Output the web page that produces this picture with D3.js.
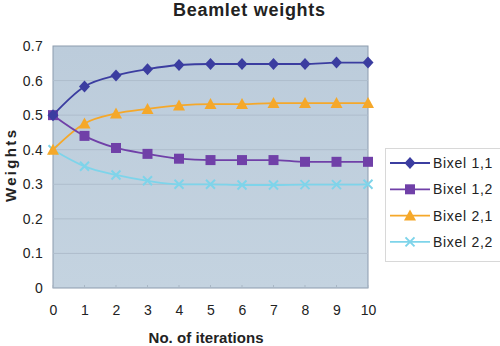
<!DOCTYPE html>
<html><head><meta charset="utf-8">
<script src="https://cdn.jsdelivr.net/npm/d3@7"></script>
<style>body{margin:0;background:#fff}svg{display:block}text{font-family:"Liberation Sans",Arial,sans-serif}</style>
</head><body>
<svg id="c" width="500" height="346"></svg>
<script>
const iterations = [0,1,2,3,4,5,6,7,8,9,10];
const bixel11 = [0.5,0.583,0.615,0.633,0.645,0.648,0.648,0.648,0.648,0.652,0.652];
const bixel12 = [0.5,0.44,0.405,0.388,0.374,0.37,0.37,0.37,0.365,0.365,0.365];
const bixel21 = [0.4,0.476,0.505,0.518,0.528,0.532,0.532,0.535,0.535,0.535,0.535];
const bixel22 = [0.4,0.352,0.327,0.31,0.3,0.3,0.298,0.298,0.299,0.299,0.3];
const seriesNames = ["Bixel 1,1","Bixel 1,2","Bixel 2,1","Bixel 2,2"];
const yTicks = [0,0.1,0.2,0.3,0.4,0.5,0.6,0.7];

const series = [
  {name:seriesNames[0], values:bixel11, color:"#3B3DA0", marker:"diamond"},
  {name:seriesNames[1], values:bixel12, color:"#7040A8", marker:"square"},
  {name:seriesNames[2], values:bixel21, color:"#F5A82A", marker:"triangle"},
  {name:seriesNames[3], values:bixel22, color:"#7ED4EA", marker:"x"}
];

const svg = d3.select("#c");
const L=53, R=368, T=46, B=288;
const x = d3.scaleLinear().domain([0,10]).range([L,R]);
const y = d3.scaleLinear().domain([0,0.7]).range([B,T]);

const defs = svg.append("defs");
const g = defs.append("linearGradient").attr("id","bg").attr("x1",0).attr("y1",0).attr("x2",0).attr("y2",1);
g.append("stop").attr("offset","0%").attr("stop-color","#BCCCDB");
g.append("stop").attr("offset","100%").attr("stop-color","#C4D3E0");

svg.append("rect").attr("x",L).attr("y",T).attr("width",R-L).attr("height",B-T)
  .attr("fill","url(#bg)").attr("stroke","#8C9BAE").attr("stroke-width",1);

// gridlines
svg.append("g").selectAll("line").data(yTicks.filter(d=>d>0&&d<0.7)).join("line")
  .attr("x1",L).attr("x2",R).attr("y1",d=>y(d)).attr("y2",d=>y(d))
  .attr("stroke","#AEBDCC").attr("stroke-width",1);

// axes
const yAxis = d3.axisLeft(y).tickValues(yTicks).tickSize(0).tickPadding(10).tickFormat(d=>d===0?"0":d3.format(".1f")(d));
const ya = svg.append("g").attr("transform",`translate(${L},0)`).call(yAxis);
ya.select(".domain").remove();
ya.selectAll("text").attr("font-size",14).attr("fill","#222").attr("letter-spacing",0.3);

const xAxis = d3.axisBottom(x).tickValues(iterations).tickSize(0).tickPadding(17).tickFormat(d3.format("d"));
const xa = svg.append("g").attr("transform",`translate(0,${B})`).call(xAxis);
xa.select(".domain").remove();
xa.selectAll("text").attr("font-size",14).attr("fill","#222");
// small tick marks
svg.append("g").selectAll("line").data(iterations).join("line")
  .attr("x1",d=>x(d)).attr("x2",d=>x(d)).attr("y1",B).attr("y2",B-3).attr("stroke","#A9B7C5");

// titles
svg.append("text").attr("x",249).attr("y",16).attr("text-anchor","middle")
  .attr("font-size",18).attr("font-weight","bold").attr("fill","#222")
  .attr("textLength",152).attr("lengthAdjust","spacing").text("Beamlet weights");
svg.append("text").attr("x",206).attr("y",343).attr("text-anchor","middle")
  .attr("font-size",15).attr("font-weight","bold").attr("fill","#222")
  .attr("textLength",115).attr("lengthAdjust","spacing").text("No. of iterations");
svg.append("text").attr("transform",`translate(16,166) rotate(-90)`).attr("text-anchor","middle")
  .attr("font-size",15).attr("font-weight","bold").attr("fill","#222")
  .attr("textLength",72).attr("lengthAdjust","spacing").text("Weights");

function drawMarker(sel, type, color){
  if(type==="diamond") sel.append("path").attr("d","M0,-6L5.5,0L0,6L-5.5,0Z").attr("fill",color);
  else if(type==="square") sel.append("rect").attr("x",-5).attr("y",-5).attr("width",10).attr("height",10).attr("fill",color);
  else if(type==="triangle") sel.append("path").attr("d","M0,-6L6,5L-6,5Z").attr("fill",color);
  else if(type==="x") sel.append("path").attr("d","M-4.5,-4.5L4.5,4.5M-4.5,4.5L4.5,-4.5").attr("stroke",color).attr("stroke-width",2).attr("fill","none");
}

const line = d3.line().x((d,i)=>x(iterations[i])).y(d=>y(d)).curve(d3.curveMonotoneX);
const order = [3,2,1,0];
order.forEach(k=>{
  const s = series[k];
  svg.append("path").attr("d",line(s.values)).attr("fill","none").attr("stroke",s.color).attr("stroke-width",1.8);
  svg.append("g").selectAll("g").data(s.values).join("g")
    .attr("transform",(d,i)=>`translate(${x(iterations[i])},${y(d)})`)
    .each(function(){ drawMarker(d3.select(this), s.marker, s.color); });
});

// legend
const lg = svg.append("g");
lg.append("rect").attr("x",385.5).attr("y",148.5).attr("width",116).attr("height",113)
  .attr("fill","#fff").attr("stroke","#D8D8D8");
series.forEach((s,i)=>{
  const yy = 163 + i*26.3;
  const it = lg.append("g");
  it.append("line").attr("x1",390).attr("x2",430).attr("y1",yy).attr("y2",yy).attr("stroke",s.color).attr("stroke-width",1.8);
  const m = it.append("g").attr("transform",`translate(410,${yy})`);
  drawMarker(m, s.marker, s.color);
  it.append("text").attr("x",433).attr("y",yy+5).attr("font-size",14).attr("fill","#222")
    .attr("letter-spacing",0.7).text(s.name);
});
</script>
</body></html>
